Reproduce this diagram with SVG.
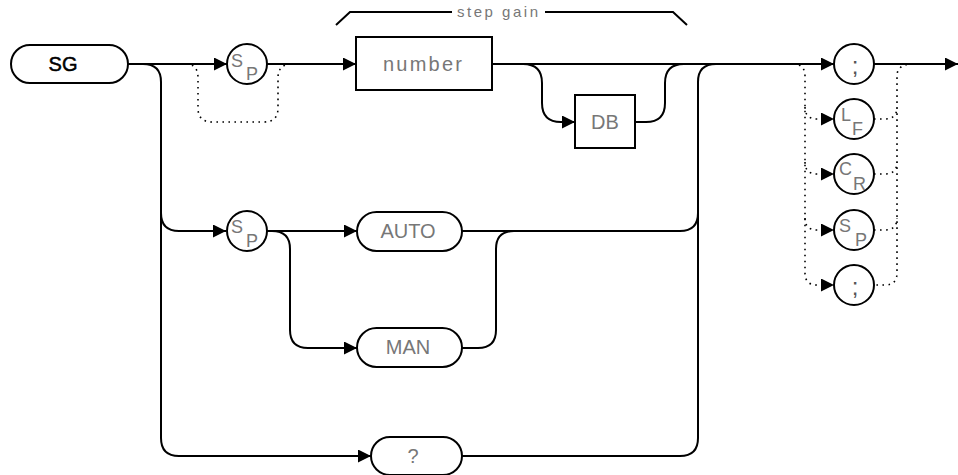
<svg xmlns="http://www.w3.org/2000/svg" width="958" height="475" viewBox="0 0 958 475">
<style>
.box{fill:#fff;stroke:#000;stroke-width:2}
.ln{fill:none;stroke:#000;stroke-width:2}
.dot{fill:none;stroke:#000;stroke-width:1.6;stroke-dasharray:1.6 4.4}
.lbl{font-family:"Liberation Sans",Arial,sans-serif;font-size:20px;fill:#777;text-anchor:middle}
.sub{font-family:"Liberation Sans",Arial,sans-serif;font-size:18px;fill:#777}
.cap{font-family:"Liberation Sans",Arial,sans-serif;font-size:15px;fill:#777}
.semi{font-family:"Liberation Sans",Arial,sans-serif;font-size:24px;fill:#555;text-anchor:middle}
</style>
<defs>
<marker id="ah" markerUnits="userSpaceOnUse" markerWidth="14" markerHeight="14" refX="13" refY="6.5" orient="auto">
<path d="M0,0 L13,6.5 L0,13 z" fill="#000"/>
</marker>
</defs>
<g id="connectors">
<path class="ln" d="M128,64 H227" marker-end="url(#ah)"/>
<path class="ln" d="M267,64 H356" marker-end="url(#ah)"/>
<path class="dot" d="M186,64 Q198,64 198,78 V108 Q198,122 212,122 H264 Q278,122 278,108 V78 Q278,64 292,64"/>
<path class="ln" d="M492,64 H834" marker-end="url(#ah)"/>
<path class="ln" d="M523,64 Q542,64 542,83 V103 Q542,122 561,122 H575" marker-end="url(#ah)"/>
<path class="ln" d="M635,122 H646 Q665,122 665,103 V83 Q665,64 684,64"/>
<path class="ln" d="M143,64 Q161,64 161,82 V438 Q161,456 179,456 H371" marker-end="url(#ah)"/>
<path class="ln" d="M161,213 Q161,231 179,231 H226" marker-end="url(#ah)"/>
<path class="ln" d="M267,231 H357" marker-end="url(#ah)"/>
<path class="ln" d="M272,231 Q290,231 290,249 V330 Q290,348 308,348 H357" marker-end="url(#ah)"/>
<path class="ln" d="M462,231 H680 Q698,231 698,213"/>
<path class="ln" d="M462,348 H478 Q496,348 496,330 V249 Q496,231 514,231"/>
<path class="ln" d="M716,64 Q698,64 698,82 V438 Q698,456 680,456 H462"/>
<path class="ln" d="M874,64 H958" marker-end="url(#ah)"/>
<path class="dot" d="M793,64 Q805,64 805,76 V273 Q805,285 817,285 H834" marker-end="url(#ah)"/>
<path class="dot" d="M805,107 Q805,119 817,119 H834" marker-end="url(#ah)"/>
<path class="dot" d="M805,162 Q805,174 817,174 H834" marker-end="url(#ah)"/>
<path class="dot" d="M805,218 Q805,230 817,230 H834" marker-end="url(#ah)"/>
<path class="dot" d="M913,64 Q897,64 897,76 V273 Q897,285 885,285 H874"/>
<path class="dot" d="M874,119 H885 Q897,119 897,107"/>
<path class="dot" d="M874,174 H885 Q897,174 897,162"/>
<path class="dot" d="M874,230 H885 Q897,230 897,218"/>
</g>
<g id="bracket">
<path class="ln" d="M336,25 L350,12 H452"/>
<path class="ln" d="M545,12 H673 L687,25"/>
<text x="457" y="17" class="cap" textLength="81" lengthAdjust="spacing">step gain</text>
</g>
<g id="n-SG">
<rect class="box" x="11" y="45" width="117" height="38" rx="19"/>
<text x="63" y="71" font-family="Liberation Sans,Arial,sans-serif" font-size="20" text-anchor="middle" fill="#000" stroke="#000" stroke-width="0.5">SG</text>
</g>
<g id="n-sp1">
<circle class="box" cx="247" cy="64" r="20"/>
<text class="sub" x="231" y="67">S</text><text class="sub" x="246" y="80">P</text>
</g>
<g id="n-number">
<rect class="box" x="356" y="37" width="136" height="53"/>
<text class="lbl" x="383" y="71" style="text-anchor:start" textLength="79" lengthAdjust="spacing">number</text>
</g>
<g id="n-DB">
<rect class="box" x="575" y="95" width="60" height="53"/>
<text class="lbl" x="605" y="129">DB</text>
</g>
<g id="n-sp2">
<circle class="box" cx="247" cy="231" r="20"/>
<text class="sub" x="231" y="233">S</text><text class="sub" x="246" y="247">P</text>
</g>
<g id="n-AUTO">
<rect class="box" x="357" y="212" width="105" height="39" rx="19.5"/>
<text class="lbl" x="408" y="238">AUTO</text>
</g>
<g id="n-MAN">
<rect class="box" x="357" y="328" width="105" height="39" rx="19.5"/>
<text class="lbl" x="408" y="354">MAN</text>
</g>
<g id="n-Q">
<rect class="box" x="371" y="437" width="91" height="38" rx="19"/>
<text class="lbl" x="413" y="463">?</text>
</g>
<g id="n-semi1">
<circle class="box" cx="854" cy="64" r="20"/>
<text class="semi" x="855" y="74">;</text>
</g>
<g id="n-LF">
<circle class="box" cx="854" cy="119" r="20"/>
<text class="sub" x="841" y="121">L</text><text class="sub" x="852" y="135">F</text>
</g>
<g id="n-CR">
<circle class="box" cx="854" cy="174" r="20"/>
<text class="sub" x="839" y="175">C</text><text class="sub" x="853" y="190">R</text>
</g>
<g id="n-SP3">
<circle class="box" cx="854" cy="230" r="20"/>
<text class="sub" x="839" y="232">S</text><text class="sub" x="855" y="246">P</text>
</g>
<g id="n-semi2">
<circle class="box" cx="854" cy="285" r="20"/>
<text class="semi" x="855" y="295">;</text>
</g>
</svg>
